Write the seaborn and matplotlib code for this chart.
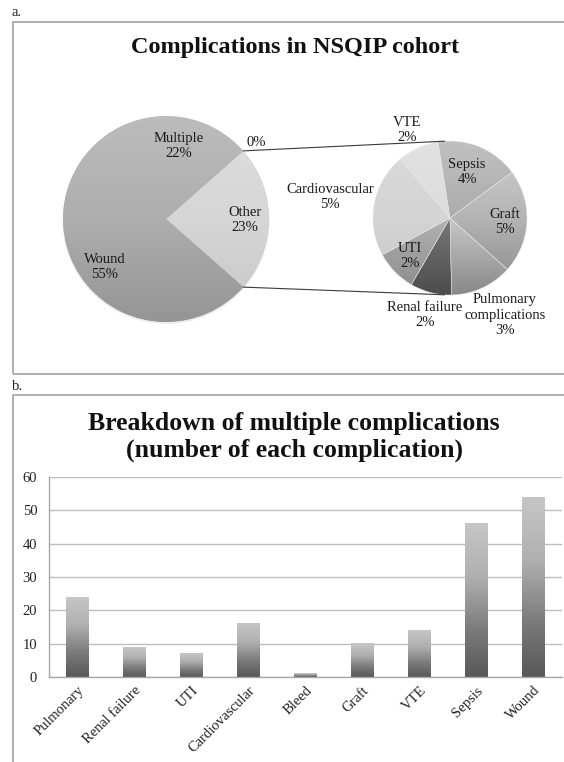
import numpy as np
import pandas as pd
import matplotlib
matplotlib.use("Agg")
import matplotlib.pyplot as plt
import seaborn as sns
from matplotlib.colors import to_rgb
from matplotlib.patches import Rectangle, Circle

# ---------------- data ----------------
main_labels = ["Other", "", "Multiple", "Wound"]
main_pct = [23, 0, 22, 55]

other_labels = ["Sepsis", "Graft", "Pulmonary\ncomplications", "Renal failure",
                "UTI", "Cardiovascular", "VTE"]
other_pct = [4, 5, 3, 2, 2, 5, 2]

bar_categories = ["Pulmonary", "Renal failure", "UTI", "Cardiovascular", "Bleed",
                  "Graft", "VTE", "Sepsis", "Wound"]
bar_counts = [24, 9, 7, 16, 1, 10, 14, 46, 54]
y_ticks = [0, 10, 20, 30, 40, 50, 60]

# ---------------- style ----------------
sns.set_theme(style="white")
plt.rcParams["font.family"] = ["Liberation Serif", "DejaVu Serif"]

W, H = 564, 762
fig = plt.figure(figsize=(W / 100, H / 100), dpi=100)
fig.patch.set_facecolor("white")


def grad(stops, n=256):
    """Vertical gradient image (top row first) from (position, colour) stops."""
    pos = np.array([s[0] for s in stops])
    cols = np.array([to_rgb(s[1]) for s in stops])
    t = np.linspace(0, 1, n)
    img = np.stack([np.interp(t, pos, cols[:, k]) for k in range(3)], axis=-1)
    return img[:, None, :]


# canvas axes in pixel units (y measured upward)
ax0 = fig.add_axes([0, 0, 1, 1])


def Y(y):
    return H - y


# panel frames and captions
frame_kw = dict(fill=False, ec="#9a9a9a", lw=1.1, zorder=0)
ax0.add_patch(Rectangle((13, Y(374)), 600, 352, **frame_kw))
ax0.add_patch(Rectangle((13, Y(800)), 600, 405, **frame_kw))
ax0.text(12, Y(13), "a.", fontsize=10.5, ha="left", va="center", color="#222")
ax0.text(12, Y(386), "b.", fontsize=10.5, ha="left", va="center", color="#222")
ax0.text(295, Y(47), "Complications in NSQIP cohort", fontsize=17.5,
         fontweight="bold", ha="center", va="center", color="#111")

# ---- main pie ----
mc, mr = (166, Y(219)), 103
main_ext = [mc[0] - mr, mc[0] + mr, mc[1] - mr, mc[1] + mr]
main_start = -main_pct[0] * 3.6 / 2
base_shade = [(0, "#bcbcbc"), (0.5, "#aeaeae"), (1, "#959595")]
main_shades = [
    [(0, "#dedede"), (0.5, "#d6d6d6"), (1, "#c6c6c6")],
    base_shade, base_shade, base_shade,
]
ax0.add_patch(Circle((mc[0], mc[1] - 1.5), mr + 0.5, fc="#000000", alpha=0.07,
                     lw=0, zorder=0.5))
# full-disc underlay so adjoining slices of the same shade show no seam
disc = Circle(mc, mr - 0.3, fc="none", lw=0)
ax0.add_patch(disc)
under = ax0.imshow(grad(base_shade), extent=main_ext, aspect="auto", origin="upper",
                   zorder=0.9, interpolation="bilinear")
under.set_clip_path(disc)

main_wedges, _ = ax0.pie(main_pct, center=mc, radius=mr, startangle=main_start,
                         counterclock=True, wedgeprops=dict(linewidth=0))
for w, sh in zip(main_wedges, main_shades):
    im = ax0.imshow(grad(sh), extent=main_ext, aspect="auto", origin="upper",
                    zorder=1, interpolation="bilinear")
    im.set_clip_path(w)
    w.set_facecolor("none")
    w.set_edgecolor("none")
    w.set_zorder(2)

# ---- secondary pie ("Other" broken down) ----
sc, sr = (450, Y(218)), 77
other_shades = [
    [(0, "#c0c0c0"), (0.5, "#acacac"), (1, "#999999")],
    [(0, "#d0d0d0"), (0.5, "#b4b4b4"), (1, "#888888")],
    [(0, "#d8d8d8"), (0.5, "#c8c8c8"), (1, "#888888")],
    [(0, "#8a8a8a"), (0.5, "#787878"), (1, "#4c4c4c")],
    [(0, "#c4c4c4"), (0.5, "#b2b2b2"), (1, "#8a8a8a")],
    [(0, "#dadada"), (0.5, "#d4d4d4"), (1, "#c6c6c6")],
    [(0, "#e2e2e2"), (0.5, "#dcdcdc"), (1, "#d0d0d0")],
]
sub_wedges, _ = ax0.pie(other_pct, center=sc, radius=sr, startangle=99,
                        counterclock=False, wedgeprops=dict(linewidth=0))
for w, sh in zip(sub_wedges, other_shades):
    im = ax0.imshow(grad(sh), extent=[sc[0] - sr, sc[0] + sr, sc[1] - sr, sc[1] + sr],
                    aspect="auto", origin="upper", zorder=1, interpolation="bilinear")
    im.set_clip_path(w)
    w.set_facecolor("none")
    w.set_edgecolor("#e6e6e6")
    w.set_linewidth(0.3)
    w.set_zorder(2)

# connector lines from the "Other" slice to the secondary pie
a_hi = np.deg2rad(main_start + main_pct[0] * 3.6)
a_lo = np.deg2rad(main_start)
for a, b in [(a_hi, np.deg2rad(94)), (a_lo, np.deg2rad(-94))]:
    ax0.plot([mc[0] + mr * np.cos(a), sc[0] + sr * np.cos(b)],
             [mc[1] + mr * np.sin(a), sc[1] + sr * np.sin(b)],
             color="#3a3a3a", lw=0.8, zorder=3)

# data labels
lab_kw = dict(fontsize=10.5, ha="center", va="center", color="#1a1a1a",
              linespacing=1.25, zorder=4)
main_pos = [(245, 220), (256, 143), (179, 146), (105, 267)]
for name, v, (x, y) in zip(main_labels, main_pct, main_pos):
    txt = f"{name}\n{v}%" if name else f"{v}%"
    ax0.text(x, Y(y), txt, **lab_kw)

other_pos = [(467, 172), (505, 222), (505, 315), (425, 315),
             (410, 256), (330, 197), (407, 130)]
for name, v, (x, y) in zip(other_labels, other_pct, other_pos):
    ax0.text(x, Y(y), f"{name}\n{v}%", **lab_kw)

ax0.set_xlim(0, W)
ax0.set_ylim(0, H)
ax0.set_aspect("auto")
ax0.axis("off")

# ---------------- bar chart ----------------
fig.text(294 / W, 1 - 437 / H,
         "Breakdown of multiple complications\n(number of each complication)",
         fontsize=18.5, fontweight="bold", ha="center", va="center", color="#111",
         linespacing=1.15)

axb = fig.add_axes([49 / W, 1 - 677 / H, 513 / W, 200 / H])
axb.patch.set_alpha(0)
df = pd.DataFrame({"complication": bar_categories, "count": bar_counts})
sns.barplot(data=df, x="complication", y="count", order=bar_categories,
            width=0.4, color="#888888", saturation=1, ax=axb)

bar_grad = grad([(0, "#c6c6c6"), (0.35, "#b0b0b0"), (0.7, "#7a7a7a"), (1, "#585858")])
for p in list(axb.patches):
    x0, y0, bw, bh = p.get_x(), p.get_y(), p.get_width(), p.get_height()
    axb.imshow(bar_grad, extent=[x0, x0 + bw, y0, y0 + bh], aspect="auto",
               origin="upper", zorder=2, interpolation="bilinear")
    p.set_facecolor("none")
    p.set_edgecolor("none")

axb.set_xlim(-0.5, len(bar_categories) - 0.5)
axb.set_ylim(y_ticks[0], y_ticks[-1])
axb.set_yticks(y_ticks)
axb.set_xlabel("")
axb.set_ylabel("")
axb.set_aspect("auto")
axb.set_axisbelow(True)
axb.yaxis.grid(True, color="#bdbdbd", lw=1.0)
axb.xaxis.grid(False)
for s in ["top", "right"]:
    axb.spines[s].set_visible(False)
for s in ["left", "bottom"]:
    axb.spines[s].set_color("#a8a8a8")
    axb.spines[s].set_linewidth(1.0)
axb.tick_params(axis="y", length=0, pad=8.5, labelsize=10.5, labelcolor="#222")
axb.tick_params(axis="x", length=0, pad=5, labelsize=10.5, labelcolor="#222")
for t in axb.get_xticklabels():
    t.set_rotation(45)
    t.set_ha("right")
    t.set_va("top")
    t.set_rotation_mode("anchor")

fig.savefig("out.png", dpi=100)
